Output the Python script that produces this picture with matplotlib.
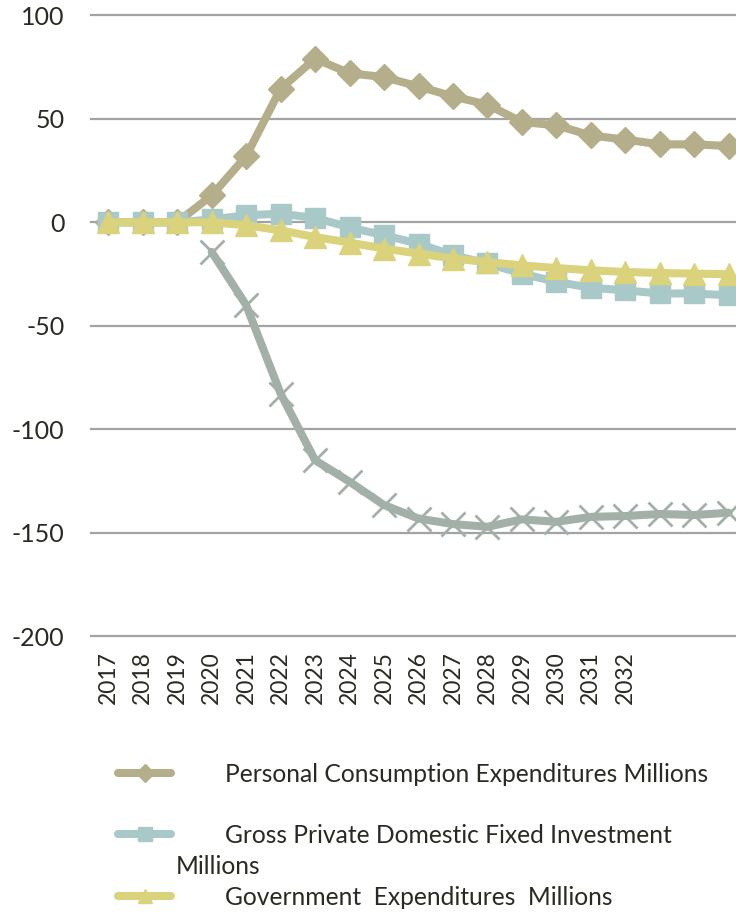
import matplotlib
matplotlib.use("Agg")
import matplotlib.pyplot as plt
from matplotlib.lines import Line2D

years = list(range(2017, 2036))
tick_labels = [str(y) for y in range(2017, 2033)] + ["", "", ""]

personal = [0, 0, 0, 13.0, 32.0, 64.6, 79.1, 72.1, 70.2, 65.7, 60.9, 56.9, 48.5, 46.9, 42.0, 40.0, 37.7, 37.7, 36.9]
gross = [0, 0, 0, 1.4, 3.4, 4.2, 2.1, -2.4, -6.3, -10.3, -15.9, -19.9, -24.8, -28.8, -31.6, -32.9, -34.4, -34.4, -35.3]
government = [0, 0, 0, 0, -1.4, -3.9, -7.1, -9.8, -12.7, -15.1, -17.5, -19.2, -20.8, -22.1, -23.2, -24.0, -24.5, -24.8, -25.1]
other_years = years[3:]
other = [-14.3, -40.0, -82.8, -115.0, -125.4, -136.7, -143.2, -145.9, -147.2, -143.6, -144.8, -142.4, -142.0, -141.0, -141.5, -140.4]

labels = ["Personal Consumption Expenditures Millions",
          "Gross Private Domestic Fixed Investment",
          "Government  Expenditures  Millions"]

c_pers = "#b5ae8a"
c_gross = "#a9c9c9"
c_gov = "#dbd37b"
c_other = "#a2b0a8"
txt = "#2a2922"
FONT = "Lato"

W, H = 736, 913
fig = plt.figure(figsize=(W / 100, H / 100), dpi=100)
ax = fig.add_axes([91 / W, 1 - 636 / H, 655 / W, (636 - 15.5) / H])

x = list(range(len(years)))
xo = [years.index(y) for y in other_years]

ax.plot(x, personal, color=c_pers, lw=5.8, marker="D", ms=13.5, mec=c_pers, zorder=3, solid_capstyle="round")
ax.plot(x, gross, color=c_gross, lw=5.8, marker="s", ms=15, mec=c_gross, zorder=4, solid_capstyle="round")
ax.plot(x, government, color=c_gov, lw=5.8, marker="^", ms=16, mec=c_gov, zorder=5, solid_capstyle="round")
ax.plot(xo, other, color=c_other, lw=5.8, marker="x", ms=17, mew=2, mec=c_other, zorder=2, solid_capstyle="round")

ax.set_xlim(-0.5, len(years) - 0.5)
ax.set_ylim(-200, 100)
ax.set_yticks([100, 50, 0, -50, -100, -150, -200])
ax.set_yticklabels(["100", "50", "0", "-50", "-100", "-150", "-200"])
ax.set_xticks(x)
ax.set_xticklabels(tick_labels, rotation=90)
for s in ax.spines.values():
    s.set_visible(False)
ax.tick_params(axis="both", length=0, labelcolor=txt)
ax.tick_params(axis="y", pad=19, labelsize=18)
ax.tick_params(axis="x", pad=11, labelsize=16.5)
for lab in ax.get_xticklabels() + ax.get_yticklabels():
    lab.set_fontfamily(FONT)
ax.yaxis.grid(True, color="#a3a3a3", lw=1.6)
for gl in ax.get_ygridlines():
    gl.set_clip_on(False)
ax.set_axisbelow(True)

# legend drawn manually
def fx(px):
    return px / W

def fy(py):
    return 1 - py / H

rows = [(773, c_pers, "D", 9), (834, c_gross, "s", 9.5), (896, c_gov, "^", 10)]
for (py, col, mk, ms), lab in zip(rows, labels):
    fig.add_artist(Line2D([fx(118), fx(171)], [fy(py), fy(py)], transform=fig.transFigure,
                          color=col, lw=5.8, solid_capstyle="round"))
    fig.add_artist(Line2D([fx(145)], [fy(py)], transform=fig.transFigure,
                          color=col, marker=mk, ms=ms, mec=col, lw=0))
    fig.text(fx(225), fy(py + 1), lab, fontsize=17.7, family=FONT, color=txt, va="center", ha="left")
fig.text(fx(176), fy(866), "Millions", fontsize=17.7, family=FONT, color=txt, va="center", ha="left")

fig.savefig("out.png", dpi=100, facecolor="white")
